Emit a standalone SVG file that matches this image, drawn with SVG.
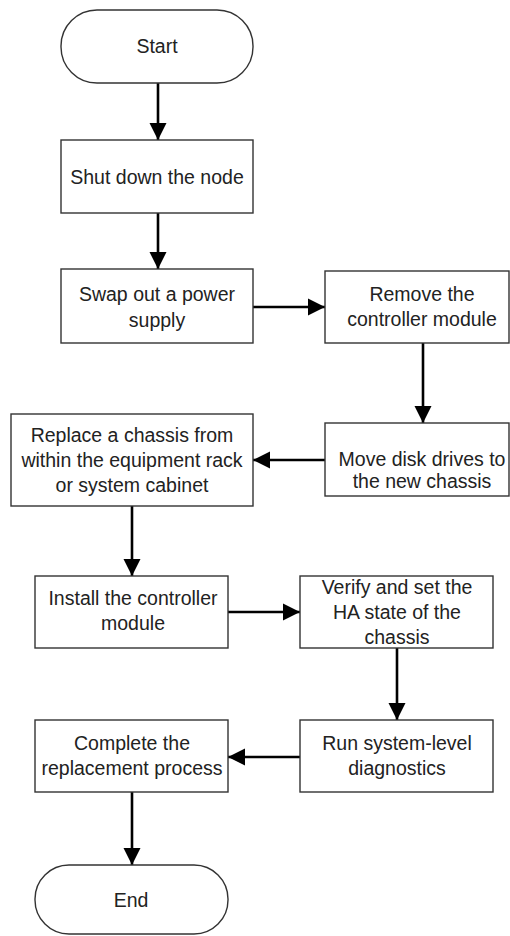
<svg xmlns="http://www.w3.org/2000/svg" width="510" height="936" viewBox="0 0 510 936">
<defs>
<marker id="ah" markerUnits="userSpaceOnUse" markerWidth="19" markerHeight="19" refX="17" refY="9" orient="auto">
<path d="M0,0.5 L17,9 L0,17.5 Z" fill="#000"/>
</marker>
<style>
.box{fill:#fff;stroke:#333;stroke-width:1.4}
.t{font-family:"Liberation Sans",Arial,sans-serif;font-size:19.5px;fill:#222;text-anchor:middle;dominant-baseline:central}
.c{stroke:#000;stroke-width:2.6;fill:none;marker-end:url(#ah)}
</style>
</defs>
<rect width="510" height="936" fill="#fff"/>
<g id="connectors">
<line class="c" x1="158" y1="83" x2="158" y2="140"/>
<line class="c" x1="158" y1="213" x2="158" y2="269"/>
<line class="c" x1="253" y1="307" x2="325" y2="307"/>
<line class="c" x1="423" y1="343" x2="423" y2="423"/>
<line class="c" x1="325" y1="460" x2="253" y2="460"/>
<line class="c" x1="132" y1="506" x2="132" y2="576"/>
<line class="c" x1="228" y1="612" x2="300" y2="612"/>
<line class="c" x1="397" y1="648" x2="397" y2="720"/>
<line class="c" x1="300" y1="757" x2="228" y2="757"/>
<line class="c" x1="132" y1="792" x2="132" y2="865"/>
</g>
<g id="start">
<rect class="box" x="61" y="10" width="192" height="73" rx="36" ry="36"/>
<text class="t" x="157" y="46">Start</text>
</g>
<g id="shutdown">
<rect class="box" x="61" y="140" width="192" height="73"/>
<text class="t" x="157" y="177">Shut down the node</text>
</g>
<g id="swap">
<rect class="box" x="61" y="269" width="192" height="74"/>
<text class="t" x="157" y="294">Swap out a power</text>
<text class="t" x="157" y="320">supply</text>
</g>
<g id="remove">
<rect class="box" x="325" y="271" width="184" height="72"/>
<text class="t" x="422" y="294">Remove the</text>
<text class="t" x="422" y="319">controller module</text>
</g>
<g id="move">
<rect class="box" x="325" y="423" width="184" height="73"/>
<text class="t" x="422" y="459">Move disk drives to</text>
<text class="t" x="422" y="481">the new chassis</text>
</g>
<g id="replace">
<rect class="box" x="11" y="414" width="242" height="92"/>
<text class="t" x="132" y="435">Replace a chassis from</text>
<text class="t" x="132" y="460">within the equipment rack</text>
<text class="t" x="132" y="485">or system cabinet</text>
</g>
<g id="install">
<rect class="box" x="35" y="576" width="193" height="72"/>
<text class="t" x="133" y="598">Install the controller</text>
<text class="t" x="133" y="623">module</text>
</g>
<g id="verify">
<rect class="box" x="300" y="576" width="193" height="72"/>
<text class="t" x="397" y="587">Verify and set the</text>
<text class="t" x="397" y="612">HA state of the</text>
<text class="t" x="397" y="637">chassis</text>
</g>
<g id="run">
<rect class="box" x="300" y="720" width="193" height="72"/>
<text class="t" x="397" y="743">Run system-level</text>
<text class="t" x="397" y="768">diagnostics</text>
</g>
<g id="complete">
<rect class="box" x="35" y="720" width="193" height="72"/>
<text class="t" x="132" y="743">Complete the</text>
<text class="t" x="132" y="768">replacement process</text>
</g>
<g id="end">
<rect class="box" x="35" y="865" width="193" height="69" rx="34" ry="34"/>
<text class="t" x="131" y="900">End</text>
</g>
</svg>
